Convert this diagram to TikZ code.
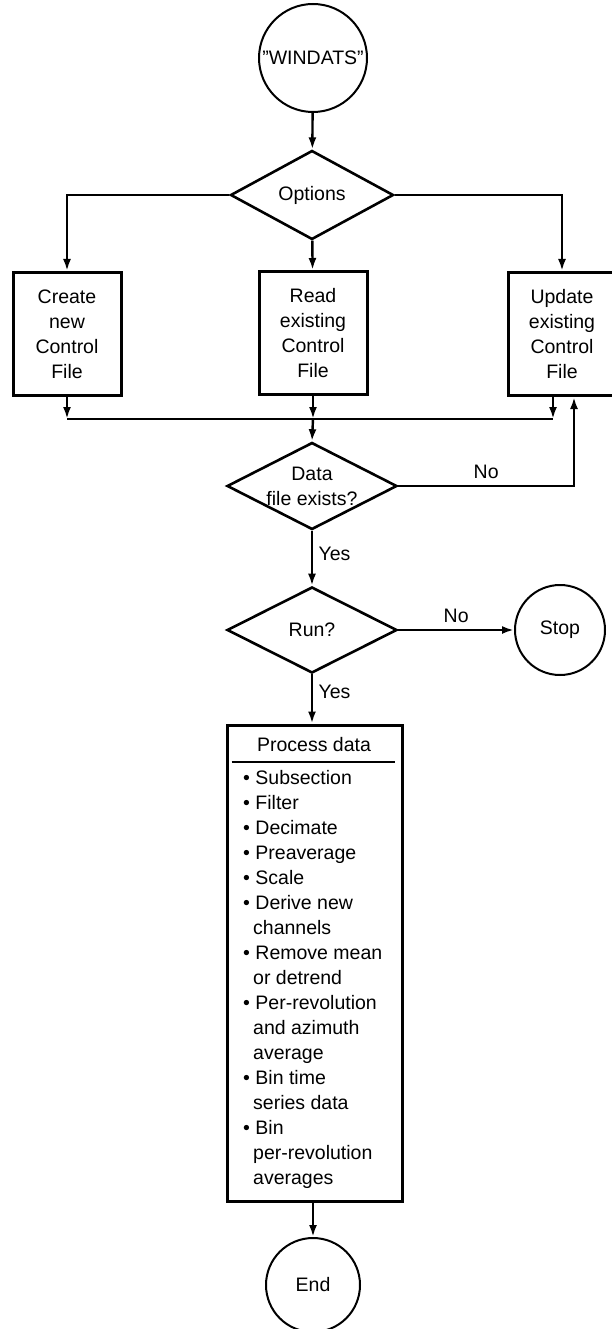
\documentclass[tikz,border=0pt]{standalone}
\usepackage{fontspec}
\setmainfont{Liberation Sans}
\usetikzlibrary{shapes.geometric,arrows.meta,positioning}

\tikzset{
	term/.style = {draw, circle, line width=2pt, inner sep=0pt},
	choice/.style = {draw, diamond, line width=2.6pt, inner sep=0pt, aspect=2, align=center},
	ctrlbox/.style = {draw, rectangle, line width=3pt, minimum width=108, minimum height=123, align=center},
	flow/.style = {line width=2.4pt, -{Latex[length=12pt,width=8pt]}},
	link/.style = {line width=2.4pt},
}

\begin{document}
\begin{tikzpicture}[x=1pt, y=-1pt, every node/.style={font=\fontsize{19.5}{25}\selectfont}]
	\useasboundingbox (0,0) rectangle (612,1329);
	\node [term, minimum size=108] (start) at (313,58) {\symbol{34}WINDATS\symbol{34}};
	\node [choice, minimum width=163, minimum height=89] (options) at (312,195) {Options};
	\node [ctrlbox] (create) at (67,334) {Create\\new\\Control\\File};
	\node [ctrlbox] (read) at (313,333) {Read\\existing\\Control\\File};
	\node [ctrlbox] (update) at (562,334) {Update\\existing\\Control\\File};
	\node [choice, minimum width=170, minimum height=87] (data) at (312,486) {Data\\file exists?};
	\node [choice, minimum width=170, minimum height=86] (run) at (312,630) {Run?};
	\node [term, minimum size=90] (stop) at (560,630) {Stop};
	\node [draw, line width=3pt, minimum width=175, minimum height=476] (proc) at (314.5,963) {};
	\node (ptitle) at (314,745) {Process data};
	\node [anchor=north west, inner sep=0pt, align=left] (plist) at (243,770) {%
		\textbullet\ Subsection\\
		\textbullet\ Filter\\
		\textbullet\ Decimate\\
		\textbullet\ Preaverage\\
		\textbullet\ Scale\\
		\textbullet\ Derive new\\
		\hspace{10pt}channels\\
		\textbullet\ Remove mean\\
		\hspace{10pt}or detrend\\
		\textbullet\ Per-revolution\\
		\hspace{10pt}and azimuth\\
		\hspace{10pt}average\\
		\textbullet\ Bin time\\
		\hspace{10pt}series data\\
		\textbullet\ Bin\\
		\hspace{10pt}per-revolution\\
		\hspace{10pt}averages};
	\node [term, minimum size=94] (end) at (313,1285) {End};
	\coordinate (join) at (313,419);
	\coordinate (sep) at (313,762);

	\draw [flow] (start) -- (options);
	\draw [flow] (options.west) -| (create.north);
	\draw [flow] (options) -- (read);
	\draw [flow] (options.east) -| (update.north);
	\draw [flow] (create.south) -- (create.south |- join);
	\draw [flow] (read.south) -- (join);
	\draw [flow] ([xshift=-9pt]update.south) -- ([xshift=-9pt]update.south |- join);
	\draw [link] (create.south |- join) -- ([xshift=-9pt]update.south |- join);
	\draw [flow] (join) -- (data.north);
	\draw [flow] (data.east) -| node [pos=0.25, above=3pt] {No} ([xshift=12pt]update.south);
	\draw [flow] (data.south) -- node [pos=0.42, right=2pt] {Yes} (run.north);
	\draw [flow] (run.east) -- node [above=3pt] {No} (stop.west);
	\draw [flow] (run.south) -- node [pos=0.35, right=2pt] {Yes} (run.south |- proc.north);
	\draw [line width=2.8pt] ([xshift=6pt]proc.west |- sep) -- ([xshift=-9pt]proc.east |- sep);
	\draw [flow] (proc.south -| end.north) -- (end.north);
\end{tikzpicture}
\end{document}
